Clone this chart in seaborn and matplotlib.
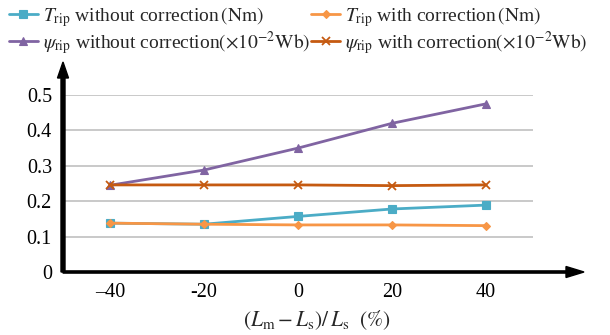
import numpy as np
import pandas as pd
import matplotlib
matplotlib.use("Agg")
import matplotlib.pyplot as plt
import seaborn as sns

# ---- data ----
categories = ["\u201340", "-20", "0", "20", "40"]
t_rip_without = [0.138, 0.135, 0.157, 0.178, 0.189]
t_rip_with = [0.138, 0.135, 0.133, 0.133, 0.131]
psi_rip_without = [0.245, 0.288, 0.350, 0.420, 0.475]
psi_rip_with = [0.246, 0.246, 0.246, 0.244, 0.246]

labels = [
    r"$T_{\rm rip}$ without correction$\,\left(\rm Nm\right)$",
    r"$T_{\rm rip}$ with correction$\,\left(\rm Nm\right)$",
    r"$\psi_{\rm rip}$ without correction$\left(\times10^{-2}\rm Wb\right)$",
    r"$\psi_{\rm rip}$ with correction$\left(\times10^{-2}\rm Wb\right)$",
]
series = [t_rip_without, t_rip_with, psi_rip_without, psi_rip_with]
colors = ["#4BACC6", "#F79646", "#8064A2", "#C55A11"]
markers = ["s", "D", "^", "x"]
msizes = [6, 4.5, 6, 6]

sns.set_theme(style="white")
plt.rcParams["font.family"] = ["Liberation Serif", "DejaVu Serif"]
plt.rcParams["mathtext.fontset"] = "stix"

W, H = 610, 335
fig = plt.figure(figsize=(W / 100, H / 100), dpi=100)
x0, x1 = 63, 533
y0, y1 = 272, 95
ax = fig.add_axes([x0 / W, 1 - y0 / H, (x1 - x0) / W, (y0 - y1) / H])

xpos = np.arange(len(categories))
for vals, c, m, ms, lab in zip(series, colors, markers, msizes, labels):
    df = pd.DataFrame({"x": xpos, "y": vals})
    sns.lineplot(data=df, x="x", y="y", ax=ax, color=c, marker=m,
                 markersize=ms, linewidth=2, markeredgecolor=c,
                 markeredgewidth=1.3 if m == "x" else 0.8, label=lab,
                 legend=False)

ax.set_xlim(-0.5, len(categories) - 0.5)
ax.set_ylim(0, 0.5)
ax.set_yticks([0, 0.1, 0.2, 0.3, 0.4, 0.5])
ax.set_yticklabels(["0", "0.1", "0.2", "0.3", "0.4", "0.5"])
ax.set_xticks(xpos)
ax.set_xticklabels(categories)
ax.tick_params(axis="both", length=0, labelsize=14.5, colors="black")
ax.tick_params(axis="y", pad=8)
ax.tick_params(axis="x", pad=8)
ax.set_xlabel("")
ax.set_ylabel("")
for yv in [0.1, 0.2, 0.3, 0.4, 0.5]:
    ax.axhline(yv, color="#C0C0C0", linewidth=1.2, zorder=0)
for s in ["top", "right", "left", "bottom"]:
    ax.spines[s].set_visible(False)

# axis arrows
fig.patches.append(matplotlib.patches.FancyArrow(
    x0 / W, 1 - y0 / H, 0, (y0 - 62) / H, width=2.2 / H, head_width=11 / W,
    head_length=16 / H, length_includes_head=True, color="black",
    transform=fig.transFigure))
fig.patches.append(matplotlib.patches.FancyArrow(
    x0 / W, 1 - y0 / H, (584 - x0) / W, 0, width=2.2 / H, head_width=11 / H,
    head_length=18 / W, length_includes_head=True, color="black",
    transform=fig.transFigure))

fig.text(317 / W, 1 - 320 / H,
         r"$\left(L_{\rm m}-L_{\rm s}\right)/\,L_{\rm s}\ \ \left(\%\right)$",
         ha="center", va="center", fontsize=15.5)

h, l = ax.get_legend_handles_labels()
order = [0, 2, 1, 3]
fig.legend([h[i] for i in order], [l[i] for i in order], ncol=2,
           loc="upper left", bbox_to_anchor=(-0.005, 1.02), frameon=False,
           fontsize=14, handlelength=1.5, handletextpad=0.25,
           columnspacing=0.05, labelspacing=0.0, borderaxespad=0.2)

fig.savefig("out.png", dpi=100)
